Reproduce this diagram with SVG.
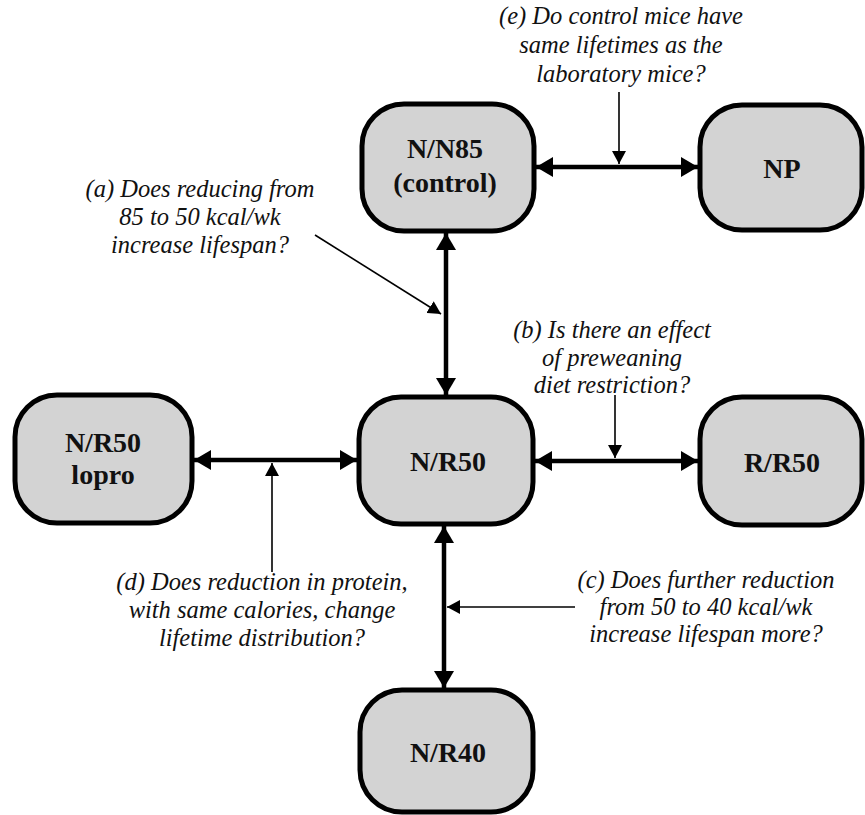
<svg xmlns="http://www.w3.org/2000/svg" width="865" height="815" viewBox="0 0 865 815">
<defs>
<marker id="big" viewBox="0 0 17 20" refX="17" refY="10" markerWidth="17" markerHeight="20" markerUnits="userSpaceOnUse" orient="auto-start-reverse"><path d="M0,0 L17,10 L0,20 z" fill="#000"/></marker>
<marker id="small" viewBox="0 0 13 14" refX="13" refY="7" markerWidth="13" markerHeight="14" markerUnits="userSpaceOnUse" orient="auto"><path d="M0,0 L13,7 L0,14 z" fill="#000"/></marker>
</defs>
<rect width="865" height="815" fill="#fff"/>
<g id="connectors" fill="none" stroke="#000">
<g stroke-width="4.5" marker-start="url(#big)" marker-end="url(#big)">
<line x1="536" y1="167" x2="698" y2="167"/>
<line x1="446" y1="233" x2="446" y2="395"/>
<line x1="194" y1="460" x2="357" y2="460"/>
<line x1="535" y1="461" x2="698" y2="461"/>
<line x1="444" y1="526" x2="444" y2="688"/>
</g>
<g stroke-width="1.6" marker-end="url(#small)">
<line x1="619" y1="92" x2="619" y2="164"/>
<line x1="315" y1="235" x2="441" y2="314"/>
<line x1="615" y1="395" x2="615" y2="458"/>
<line x1="272" y1="572" x2="272" y2="463"/>
<line x1="575" y1="607" x2="447" y2="607"/>
</g>
</g>
<g id="nodes" font-family="Liberation Serif, serif" font-weight="bold" font-size="28" text-anchor="middle" fill="#111">
<g id="node-nn85"><rect x="362" y="104" width="172" height="127" rx="42" fill="#d3d3d3" stroke="#000" stroke-width="5"/><text x="445" y="158">N/N85</text><text x="445" y="192">(control)</text></g>
<g id="node-np"><rect x="700" y="105" width="162" height="125" rx="42" fill="#d3d3d3" stroke="#000" stroke-width="5"/><text x="782" y="178">NP</text></g>
<g id="node-nr50lopro"><rect x="15" y="395" width="177" height="128" rx="42" fill="#d3d3d3" stroke="#000" stroke-width="5"/><text x="103" y="452">N/R50</text><text x="103" y="484">lopro</text></g>
<g id="node-nr50"><rect x="359" y="397" width="174" height="127" rx="42" fill="#d3d3d3" stroke="#000" stroke-width="5"/><text x="448" y="471">N/R50</text></g>
<g id="node-rr50"><rect x="700" y="397" width="162" height="128" rx="42" fill="#d3d3d3" stroke="#000" stroke-width="5"/><text x="782" y="472">R/R50</text></g>
<g id="node-nr40"><rect x="360" y="690" width="173" height="122" rx="42" fill="#d3d3d3" stroke="#000" stroke-width="5"/><text x="448" y="762">N/R40</text></g>
</g>
<g id="questions" font-family="Liberation Serif, serif" font-style="italic" font-size="24.5" text-anchor="middle" fill="#111">
<text x="621" y="24">(e) Do control mice have</text>
<text x="621" y="53">same lifetimes as the</text>
<text x="621" y="82">laboratory mice?</text>
<text x="200" y="197">(a) Does reducing from</text>
<text x="200" y="225">85 to 50 kcal/wk</text>
<text x="200" y="253">increase lifespan?</text>
<text x="612" y="338">(b) Is there an effect</text>
<text x="612" y="366">of preweaning</text>
<text x="612" y="393">diet restriction?</text>
<text x="262" y="590">(d) Does reduction in protein,</text>
<text x="262" y="618">with same calories, change</text>
<text x="262" y="646">lifetime distribution?</text>
<text x="706" y="588">(c) Does further reduction</text>
<text x="706" y="615">from 50 to 40 kcal/wk</text>
<text x="706" y="642">increase lifespan more?</text>
</g>
</svg>
